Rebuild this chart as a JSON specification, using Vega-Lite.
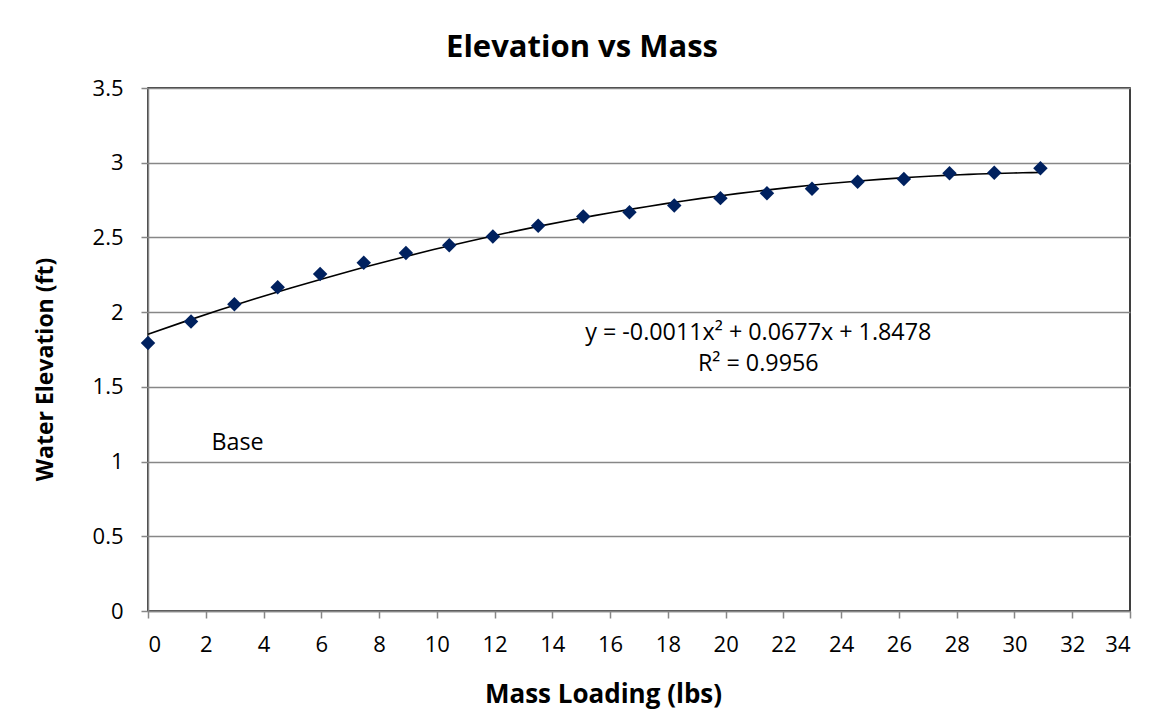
{
  "$schema": "https://vega.github.io/schema/vega-lite/v6.json",
  "width": 982,
  "height": 523,
  "autosize": {"type": "none"},
  "padding": {"left": 148, "top": 88, "right": 29, "bottom": 112},
  "background": "white",
  "title": {"text": "Elevation vs Mass", "font": "Open Sans", "fontSize": 31, "fontWeight": "bold", "color": "#000", "anchor": "middle", "offset": 13, "dx": -57},
  "config": {
    "view": {"stroke": "#000", "strokeWidth": 1.5},
    "axis": {"zindex": 1, "labelFont": "Open Sans", "labelFontSize": 22, "labelColor": "#000", "titleFont": "Open Sans", "titleFontWeight": "bold", "titleColor": "#000", "domainColor": "#878787", "domainWidth": 1.5, "tickColor": "#878787", "tickWidth": 1.5, "tickSize": 7, "gridColor": "#878787", "gridWidth": 1.5, "gridOpacity": 1}
  },
  "datasets": {
    "pts": [
      {"mass": 0, "elev": 1.793},
      {"mass": 1.49, "elev": 1.937},
      {"mass": 2.99, "elev": 2.053},
      {"mass": 4.49, "elev": 2.167},
      {"mass": 5.96, "elev": 2.255},
      {"mass": 7.47, "elev": 2.331},
      {"mass": 8.93, "elev": 2.396},
      {"mass": 10.43, "elev": 2.447},
      {"mass": 11.94, "elev": 2.507},
      {"mass": 13.51, "elev": 2.578},
      {"mass": 15.07, "elev": 2.64},
      {"mass": 16.67, "elev": 2.669},
      {"mass": 18.22, "elev": 2.713},
      {"mass": 19.82, "elev": 2.763},
      {"mass": 21.43, "elev": 2.796},
      {"mass": 22.99, "elev": 2.825},
      {"mass": 24.57, "elev": 2.873},
      {"mass": 26.17, "elev": 2.891},
      {"mass": 27.75, "elev": 2.929},
      {"mass": 29.3, "elev": 2.933},
      {"mass": 30.9, "elev": 2.963}
    ],
    "notes": [
      {"mass": 21.13, "elev": 1.86, "label": "y = -0.0011x² + 0.0677x + 1.8478"},
      {"mass": 21.13, "elev": 1.65, "label": "R² = 0.9956"},
      {"mass": 3.1, "elev": 1.124, "label": "Base"}
    ]
  },
  "encoding": {
    "x": {"field": "mass", "type": "quantitative", "scale": {"domain": [0, 34], "nice": false}, "axis": {"title": "Mass Loading (lbs)", "titleFontSize": 26, "values": [0,2,4,6,8,10,12,14,16,18,20,22,24,26,28,30,32,34], "grid": false, "labelPadding": 16, "titlePadding": 26, "titleX": 455}},
    "y": {"field": "elev", "type": "quantitative", "scale": {"domain": [0, 3.5], "nice": false, "zero": true}, "axis": {"title": "Water Elevation (ft)", "titleFontSize": 23, "values": [0,0.5,1,1.5,2,2.5,3,3.5], "format": "~g", "labelPadding": 18, "titlePadding": 35, "titleY": 281}}
  },
  "layer": [
    {
      "data": {"name": "pts"},
      "transform": [{"regression": "elev", "on": "mass", "method": "poly", "order": 2, "extent": [0, 30.9]}],
      "mark": {"type": "line", "color": "#000", "strokeWidth": 1.6}
    },
    {
      "data": {"name": "pts"},
      "mark": {"type": "point", "shape": "diamond", "filled": true, "size": 210, "color": "#00215F", "opacity": 1}
    },
    {
      "data": {"name": "notes"},
      "mark": {"type": "text", "font": "Open Sans", "fontSize": 23.3, "color": "#000", "align": "center", "baseline": "middle"},
      "encoding": {"text": {"field": "label"}}
    }
  ]
}
